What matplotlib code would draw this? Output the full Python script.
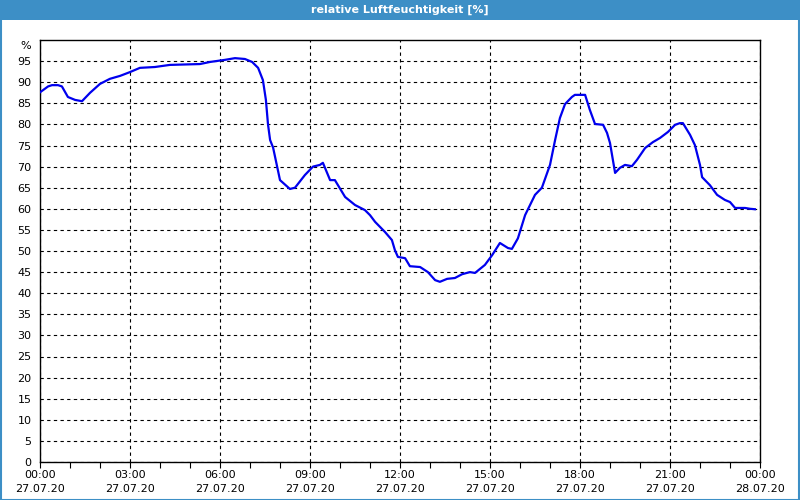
import datetime as dt
import matplotlib
matplotlib.use("Agg")
import matplotlib.pyplot as plt
import matplotlib.dates as mdates
from matplotlib.patches import Rectangle

# hours since 27.07.20 00:00 and relative humidity in %
hours = [0.0, 0.27, 0.4, 0.6, 0.73, 0.93, 1.17, 1.4, 1.67, 2.0, 2.33, 2.67, 3.0,
         3.33, 3.83, 4.33, 5.33, 5.67, 6.17, 6.5, 6.83, 7.07, 7.27, 7.43, 7.53,
         7.6, 7.67, 7.77, 8.0, 8.33, 8.5, 8.83, 9.1, 9.33, 9.43, 9.67, 9.83,
         10.17, 10.5, 10.83, 11.0, 11.17, 11.5, 11.73, 11.83, 11.93, 12.17,
         12.33, 12.67, 12.93, 13.17, 13.33, 13.57, 13.83, 14.07, 14.33, 14.5,
         14.83, 15.07, 15.33, 15.6, 15.73, 15.93, 16.17, 16.5, 16.73, 17.0,
         17.17, 17.33, 17.5, 17.73, 17.83, 18.17, 18.33, 18.5, 18.77, 18.9,
         19.0, 19.17, 19.33, 19.5, 19.73, 19.9, 20.17, 20.43, 20.67, 20.93,
         21.17, 21.33, 21.43, 21.67, 21.83, 22.0, 22.07, 22.33, 22.57, 22.83,
         23.0, 23.17, 23.5, 23.67, 23.83]
humidity = [87.6, 89.0, 89.3, 89.3, 89.0, 86.5, 85.8, 85.5, 87.5, 89.6, 90.8,
            91.5, 92.4, 93.4, 93.6, 94.1, 94.3, 94.8, 95.3, 95.7, 95.5, 94.8,
            93.4, 90.5, 85.8, 80.0, 76.3, 74.5, 66.8, 64.7, 65.0, 68.0, 70.0,
            70.4, 70.9, 66.8, 66.8, 62.8, 60.9, 59.7, 58.5, 56.9, 54.5, 52.6,
            50.2, 48.6, 48.3, 46.4, 46.2, 45.0, 43.1, 42.7, 43.4, 43.6, 44.5,
            45.0, 44.8, 46.7, 49.0, 51.9, 50.7, 50.5, 53.0, 58.5, 63.3, 65.0,
            70.4, 76.3, 81.5, 84.8, 86.5, 87.0, 87.0, 83.4, 80.1, 79.9, 78.0,
            75.6, 68.5, 69.7, 70.4, 70.1, 71.6, 74.4, 75.8, 76.8, 78.2, 79.9,
            80.3, 80.3, 77.5, 75.1, 70.4, 67.5, 65.6, 63.3, 62.1, 61.6, 60.2,
            60.2, 60.0, 59.9]

title = "relative Luftfeuchtigkeit [%]"
start = dt.datetime(2020, 7, 27)
times = [start + dt.timedelta(hours=h) for h in hours]

bar_blue = "#3d8fc6"

fig = plt.figure(figsize=(8, 5), dpi=100)
fig.patch.set_facecolor("white")

# title bar and window frame
fig.patches.append(Rectangle((0, 1 - 20 / 500), 1, 20 / 500, transform=fig.transFigure,
                             facecolor=bar_blue, edgecolor="none", zorder=0))
fig.patches.append(Rectangle((0.5 / 800, 0.5 / 500), 1 - 1.5 / 800, 1 - 1.5 / 500,
                             transform=fig.transFigure, facecolor="none",
                             edgecolor=bar_blue, linewidth=1.5, zorder=0))
fig.text(0.5, 1 - 10 / 500, title, color="white", fontsize=8, fontweight="bold",
         ha="center", va="center")

ax = fig.add_axes([40 / 800, 38 / 500, 720 / 800, 422 / 500])
ax.plot(times, humidity, color="#0000ee", linewidth=1.6, zorder=3)

ax.set_xlim(start, start + dt.timedelta(hours=24))
ax.set_ylim(0, 100)

ax.xaxis.set_major_locator(mdates.HourLocator(byhour=range(0, 24, 3)))
ax.xaxis.set_minor_locator(mdates.HourLocator())
ax.xaxis.set_major_formatter(mdates.DateFormatter("%H:%M\n%d.%m.%y"))
ax.set_yticks(range(0, 100, 5))

ax.grid(True, which="major", color="black", linestyle=(0, (3, 3)), linewidth=0.8)
ax.tick_params(axis="x", which="both", direction="out", length=4, width=0.8,
               labelsize=8, pad=2)
ax.tick_params(axis="y", length=0, labelsize=8, pad=6)
for lab in ax.get_xticklabels():
    lab.set_linespacing(1.5)

for s in ax.spines.values():
    s.set_linewidth(1)
    s.set_color("black")

ax.text(-0.012, 98.5, "%", transform=ax.get_yaxis_transform(), ha="right",
        va="center", fontsize=8)

fig.savefig("out.png", dpi=100)
